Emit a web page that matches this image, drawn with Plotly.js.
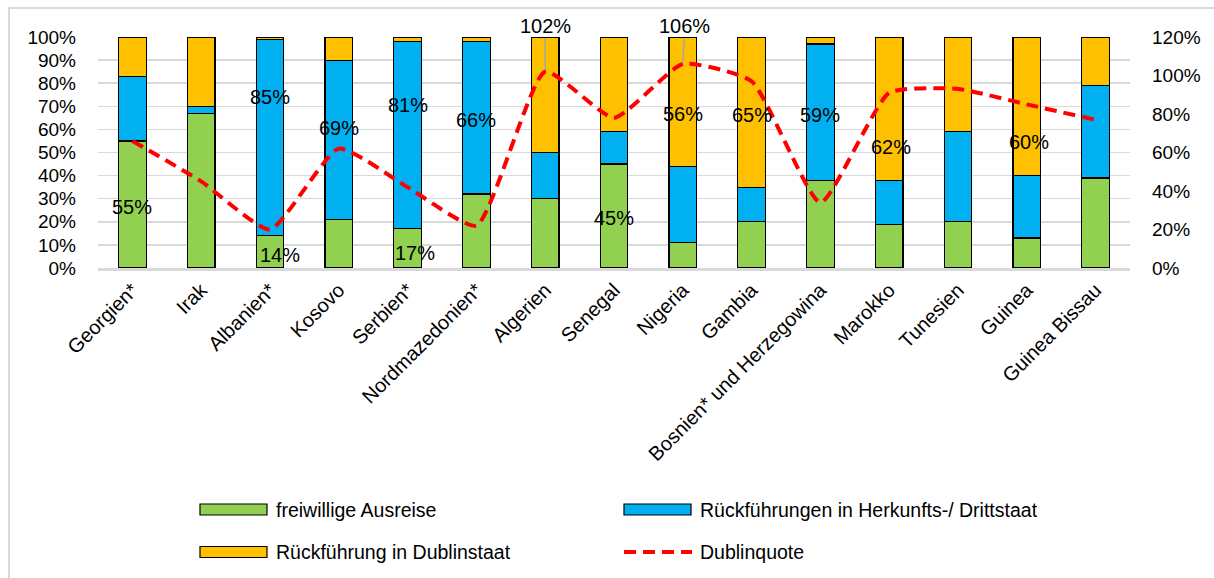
<!DOCTYPE html>
<html>
<head>
<meta charset="utf-8">
<script src="https://cdn.plot.ly/plotly-3.0.1.min.js"></script>
<style>
  html, body { margin: 0; padding: 0; background: #fff; }
  #wrap { position: relative; width: 1214px; height: 578px; }
  #chart { width: 1214px; height: 578px; }
  #frame { position: absolute; left: 8px; top: 7px; right: 0; bottom: 0;
           border-left: 2px solid #d9d9d9; border-top: 2px solid #d9d9d9; pointer-events: none; }
</style>
</head>
<body>
<div id="wrap">
  <div id="chart"></div>
  <div id="frame"></div>
</div>
<script>
// Herkunftsländer
const categories = ['Georgien*', 'Irak', 'Albanien*', 'Kosovo', 'Serbien*', 'Nordmazedonien*',
  'Algerien', 'Senegal', 'Nigeria', 'Gambia', 'Bosnien* und Herzegowina', 'Marokko',
  'Tunesien', 'Guinea', 'Guinea Bissau'];

// Anteile an allen Aufenthaltsbeendigungen (%)
const freiwillig   = [55, 67, 14, 21, 17, 32, 30, 45, 11, 20, 38, 19, 20, 13, 39];
const herkunft     = [28,  3, 85, 69, 81, 66, 20, 14, 33, 15, 59, 19, 39, 27, 40];
const dublinstaat  = [17, 30,  1, 10,  2,  2, 50, 41, 56, 65,  3, 62, 41, 60, 21];

// Dublinquote (%), rechte Achse
const dublinquote  = [66, 45, 20, 62, 42, 22, 102, 78, 106, 97, 34, 91, 93, 85, 77];

// Beschriftete Segmente (Indizes der Länder)
const freiwilligLabels  = [0, 2, 4, 7];
const herkunftLabels    = [2, 3, 4, 5, 10];
const dublinstaatLabels = [8, 9, 11, 13];
const quoteLabels       = [6, 8];

const seriesNames = ['freiwillige Ausreise', 'Rückführungen in Herkunfts-/ Drittstaat',
  'Rückführung in Dublinstaat', 'Dublinquote'];

const leftTicks  = [0, 10, 20, 30, 40, 50, 60, 70, 80, 90, 100];
const rightTicks = [0, 20, 40, 60, 80, 100, 120];

const GREEN = '#92D050', BLUE = '#00B0F0', YELLOW = '#FFC000', RED = '#FF0000';
const FONT = "'Liberation Sans', Arial, sans-serif";
const DASH = '12px,7px';

const barLine = { color: '#000000', width: 1.2 };

const traces = [
  { type: 'bar', name: seriesNames[0], x: categories, y: freiwillig,
    marker: { color: GREEN, line: barLine }, hoverinfo: 'skip' },
  { type: 'bar', name: seriesNames[1], x: categories, y: herkunft,
    marker: { color: BLUE, line: barLine }, hoverinfo: 'skip' },
  { type: 'bar', name: seriesNames[2], x: categories, y: dublinstaat,
    marker: { color: YELLOW, line: barLine }, hoverinfo: 'skip' },
  { type: 'scatter', mode: 'lines', name: seriesNames[3], x: categories, y: dublinquote,
    yaxis: 'y2', line: { color: RED, width: 4, dash: DASH, shape: 'spline', smoothing: 0.5 },
    hoverinfo: 'skip' }
];

// Pixel offsets of individual labels [dx, dy]
const labelShift = {
  'g0': [0, -3], 'g2': [10, -3], 'g4': [7, -5], 'g7': [0, -2],
  'b2': [0, 40], 'b3': [0, 12], 'b4': [0, 30], 'b5': [0, -2], 'b10': [0, -3],
  'y8': [0, -12], 'y9': [0, -3], 'y11': [2, -38], 'y13': [2, -36]
};

const annotations = [];
function segLabel(key, i, base, val) {
  const s = labelShift[key] || [0, 0];
  annotations.push({
    x: categories[i], y: base + val / 2, xref: 'x', yref: 'y',
    text: val + '%', showarrow: false, xshift: s[0], yshift: s[1],
    font: { family: FONT, size: 20, color: '#000' }
  });
}
freiwilligLabels.forEach(i => segLabel('g' + i, i, 0, freiwillig[i]));
herkunftLabels.forEach(i => segLabel('b' + i, i, freiwillig[i], herkunft[i]));
dublinstaatLabels.forEach(i => segLabel('y' + i, i, freiwillig[i] + herkunft[i], dublinstaat[i]));

const quoteOffset = { 6: [0, -46], 8: [2, -38] };
quoteLabels.forEach(i => {
  const o = quoteOffset[i];
  annotations.push({
    x: categories[i], y: dublinquote[i], xref: 'x', yref: 'y2',
    text: dublinquote[i] + '%', showarrow: true, arrowhead: 0, arrowwidth: 1.5,
    arrowcolor: '#a6a6a6', ax: o[0], ay: o[1], standoff: 2,
    font: { family: FONT, size: 20, color: '#000' }
  });
});

// Legend drawn in pixel space of the page
const W = 1214, H = 578;
const M = { l: 98, r: 84, t: 37, b: 310 };
const PW = W - M.l - M.r, PH = H - M.t - M.b;
const px = x => (x - M.l) / PW;
const py = y => (H - M.b - y) / PH;

const shapes = [];
const legendItems = [
  { name: seriesNames[0], kind: 'box', color: GREEN,  x: 200, y: 509.5 },
  { name: seriesNames[1], kind: 'box', color: BLUE,   x: 624, y: 509.5 },
  { name: seriesNames[2], kind: 'box', color: YELLOW, x: 200, y: 552 },
  { name: seriesNames[3], kind: 'line', color: RED,   x: 624, y: 552 }
];
legendItems.forEach(it => {
  if (it.kind === 'box') {
    shapes.push({ type: 'rect', xref: 'paper', yref: 'paper',
      x0: px(it.x), x1: px(it.x + 67), y0: py(it.y - 5.5), y1: py(it.y + 5.5),
      fillcolor: it.color, line: { color: '#000', width: 1.2 } });
  } else {
    shapes.push({ type: 'line', xref: 'paper', yref: 'paper',
      x0: px(it.x), x1: px(it.x + 68), y0: py(it.y), y1: py(it.y),
      line: { color: it.color, width: 4, dash: DASH } });
  }
  annotations.push({ xref: 'paper', yref: 'paper', x: px(it.x + 74), y: py(it.y),
    xanchor: 'left', yanchor: 'middle', showarrow: false, text: it.name,
    font: { family: FONT, size: 19.5, color: '#000' } });
});

const layout = {
  width: W, height: H,
  margin: M,
  paper_bgcolor: '#fff', plot_bgcolor: '#fff',
  barmode: 'stack', bargap: 0.6,
  showlegend: false,
  font: { family: FONT, size: 19, color: '#000' },
  xaxis: {
    type: 'category', tickangle: -45, ticks: '', showgrid: false,
    showline: true, linecolor: '#d9d9d9', linewidth: 2.5,
    tickfont: { family: FONT, size: 20, color: '#000' },
    fixedrange: true
  },
  yaxis: {
    range: [0, 100], tickvals: leftTicks, ticktext: leftTicks.map(v => v + '%'),
    showgrid: true, gridcolor: '#d9d9d9', gridwidth: 1.5, zeroline: false,
    ticks: '', ticklabelstandoff: 21,
    tickfont: { family: FONT, size: 19, color: '#000' }, fixedrange: true
  },
  yaxis2: {
    range: [0, 120], overlaying: 'y', side: 'right',
    tickvals: rightTicks, ticktext: rightTicks.map(v => v + '%'),
    showgrid: false, zeroline: false, ticks: '', ticklabelstandoff: 21,
    tickfont: { family: FONT, size: 19, color: '#000' }, fixedrange: true
  },
  annotations: annotations,
  shapes: shapes
};

Plotly.newPlot('chart', traces, layout, { displayModeBar: false, staticPlot: true });
</script>
</body>
</html>
